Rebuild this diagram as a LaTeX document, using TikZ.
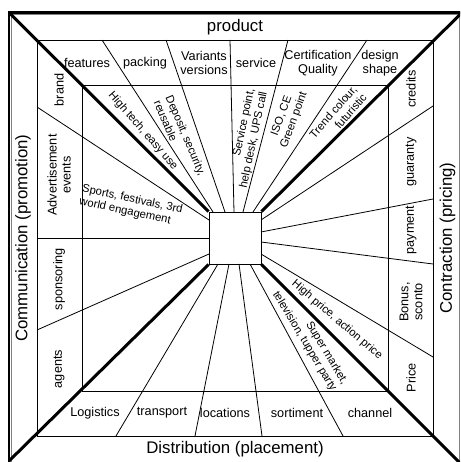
\documentclass[tikz,border=0pt]{standalone}
\usepackage{fontspec}
\setmainfont{Liberation Sans}
\tikzstyle{frame} = [draw, line width=2.5pt]
\tikzstyle{ring} = [draw, line width=0.8pt]
\tikzstyle{spoke} = [draw, line width=0.8pt]
\tikzstyle{diag} = [draw, line width=3pt]
\tikzstyle{side} = [font=\fontsize{16.8}{19}\selectfont, inner sep=0pt]
\tikzstyle{cell} = [font=\fontsize{12.7}{14}\selectfont, align=center, inner sep=0pt]
\tikzstyle{wedge} = [font=\fontsize{11.3}{13}\selectfont, align=center, inner sep=0pt]

\begin{document}
\begin{tikzpicture}[x=1pt,y=1pt]
    \useasboundingbox (-235,-224) rectangle (225,238);
    \clip (-235,-224) rectangle (225,238);
    % frame and rings
    \draw [frame] (-226,-227) rectangle (227,225.5);
    \draw [ring, gray] (-223.5,-226) rectangle (224,223.5);
    \draw [ring] (-198,-198) rectangle (198,198);
    \draw [ring] (-153,-153) rectangle (153,153);
    \node [draw, line width=0.8pt, minimum size=52pt, inner sep=0pt] (c) at (0,0) {};
    % diagonals
    \draw [diag] (-226,225.5) -- (c.north west);
    \draw [diag] (227,225.5) -- (c.north east);
    \draw [diag] (-226,-223) -- (c.south west);
    \draw [diag] (227,-227) -- (c.south east);
    % spokes, top
    \draw [spoke] (-133,198) -- (-22,26);
    \draw [spoke] (-69,198) -- (-10,26);
    \draw [spoke] (-5,198) -- (-1,26);
    \draw [spoke] (53,198) -- (8,26);
    \draw [spoke] (132,198) -- (18,26);
    % spokes, right
    \draw [spoke] (198,132) -- (26,18);
    \draw [spoke] (198,39) -- (26,6);
    \draw [spoke] (198,-26) -- (26,-4);
    \draw [spoke] (198,-119) -- (26,-16);
    % spokes, bottom
    \draw [spoke] (-119,-198) -- (-17,-26);
    \draw [spoke] (-40,-198) -- (-6,-26);
    \draw [spoke] (27,-198) -- (4,-26);
    \draw [spoke] (108,-198) -- (15,-26);
    % spokes, left
    \draw [spoke] (-198,131) -- (-26,18);
    \draw [spoke] (-198,0) -- (-26,0);
    \draw [spoke] (-198,-92) -- (-26,-16);
    % outer labels
    \node [side] (prod) at (0,211) {product};
    \node [side, rotate=90] (comm) at (-212,0) {Communication (promotion)};
    \node [side, rotate=90] (contr) at (212.5,0) {Contraction (pricing)};
    \node [side] (distr) at (0,-211) {Distribution (placement)};
    % product cells
    \node [cell] (feat) at (-148,175) {features};
    \node [cell] (pack) at (-90,175) {packing};
    \node [cell] (vari) at (-31,175) {Variants\\versions};
    \node [cell] (serv) at (21,175) {service};
    \node [cell] (cert) at (83,175) {Certification\\Quality};
    \node [cell] (desi) at (145,175) {design\\shape};
    % communication cells
    \node [cell, rotate=90] (bran) at (-176,148) {brand};
    \node [cell, rotate=90] (adve) at (-176,63) {Advertisement\\events};
    \node [cell, rotate=90] (spon) at (-176,-41) {sponsoring};
    \node [cell, rotate=90] (agen) at (-176,-131) {agents};
    % pricing cells
    \node [cell, rotate=90] (cred) at (176,149) {credits};
    \node [cell, rotate=90] (guar) at (176,76) {guaranty};
    \node [cell, rotate=90] (paym) at (176,8) {payment};
    \node [cell, rotate=90] (bonu) at (176,-64) {Bonus,\\sconto};
    \node [cell, rotate=90] (pric) at (176,-140) {Price};
    % placement cells
    \node [cell] (logi) at (-140,-175) {Logistics};
    \node [cell] (tran) at (-73,-175) {transport};
    \node [cell] (loca) at (-10,-175) {locations};
    \node [cell] (sort) at (62,-175) {sortiment};
    \node [cell] (chan) at (135,-175) {channel};
    % wedge texts
    \node [wedge, rotate=-49] (tech) at (-92,107) {High tech, easy use};
    \node [wedge, rotate=-67, align=left] (depo) at (-55,100) {Deposit, security,\\reusable};
    \node [wedge, rotate=78, align=right] (hotl) at (12.5,99.5) {Service point,\\help desk, UPS call};
    \node [wedge, rotate=70] (iso) at (53,120) {ISO, CE\\Green point};
    \node [wedge, rotate=49, align=right] (tren) at (103,122) {Trend colour,\\futuristic};
    \node [wedge, rotate=-12, align=left] (spor) at (-104,32) {Sports, festivals, 3rd\\world engagement};
    \node [wedge, rotate=-40.5] (hipr) at (102,-82) {High price, action price};
    \node [wedge, rotate=-59, align=right] (supm) at (75,-100) {Super market,\\television, tupper party};
\end{tikzpicture}
\end{document}
